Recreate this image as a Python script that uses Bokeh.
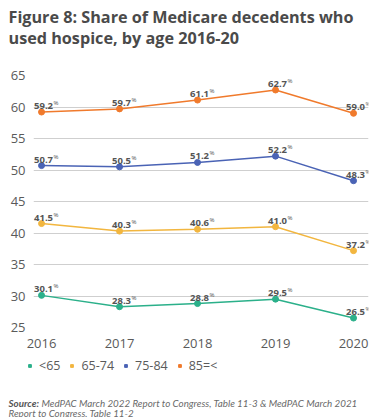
from bokeh.plotting import figure
from bokeh.layouts import column
from bokeh.models import Range1d, Legend, LegendItem, FixedTicker, ColumnDataSource
from bokeh.core.properties import value
from bokeh.embed import file_html
from bokeh.resources import INLINE

# ---- data ----
years = [2016, 2017, 2018, 2019, 2020]
under65 = [30.1, 28.3, 28.8, 29.5, 26.5]
age65_74 = [41.5, 40.3, 40.6, 41.0, 37.2]
age75_84 = [50.7, 50.5, 51.2, 52.2, 48.3]
age85plus = [59.2, 59.7, 61.1, 62.7, 59.0]
series_names = ["<65", "65-74", "75-84", "85=<"]
series_values = [under65, age65_74, age75_84, age85plus]
colors = ["#2bb08a", "#f2b63f", "#4a63b5", "#f07a2c"]
y_ticks = [25, 30, 35, 40, 45, 50, 55, 60, 65]
title_lines = ["Figure 8: Share of Medicare decedents who", "used hospice, by age 2016-20"]
source_bold = "Source:"
source_line1 = "MedPAC March 2022 Report to Congress, Table 11-3 & MedPAC March 2021"
source_line2 = "Report to Congress, Table 11-2"

FONT = "Open Sans"
W = 388
TOP_H, MAIN_H, BOT_H = 67, 290, 60


def blank_fig(h):
    f = figure(width=W, height=h, output_backend="svg", toolbar_location=None,
               x_range=Range1d(0, W), y_range=Range1d(h, 0),
               min_border=0, min_border_left=0, min_border_right=0,
               min_border_top=0, min_border_bottom=0, frame_align=False)
    f.axis.visible = False
    f.grid.visible = False
    f.outline_line_color = None
    return f


# ---- title ----
top = blank_fig(TOP_H)
top.text(x=[8, 8], y=[16, 37], text=title_lines, text_font=value(FONT), text_font_style="bold",
         text_font_size="16.2px", text_color="#4a4a4a", text_baseline="alphabetic")

# ---- main chart ----
p = figure(width=W, height=MAIN_H, output_backend="svg", toolbar_location=None,
           x_range=Range1d(2015.897, 2020.192), y_range=Range1d(25, 65),
           min_border_left=33, min_border_right=20, min_border_top=8, min_border_bottom=30,
           frame_align=False)
p.outline_line_color = None
p.xgrid.visible = False
p.ygrid.ticker = FixedTicker(ticks=y_ticks)
p.ygrid.grid_line_color = "#cfcfcf"
p.ygrid.grid_line_width = 1

for ax in (p.xaxis[0], p.yaxis[0]):
    ax.axis_line_color = None
    ax.major_tick_line_color = None
    ax.minor_tick_line_color = None
    ax.major_label_text_font = FONT
    ax.major_label_text_font_size = "13px"
    ax.major_label_text_color = "#5a5a5a"
p.xaxis.ticker = FixedTicker(ticks=years)
p.yaxis.ticker = FixedTicker(ticks=y_ticks)
p.xaxis.major_label_standoff = 5
p.yaxis.major_label_standoff = 2

for name, vals, col in zip(series_names, series_values, colors):
    src = ColumnDataSource(dict(x=years, y=vals, lab=[f"{v:.1f}" for v in vals], pct=["%"] * len(vals)))
    p.line("x", "y", source=src, line_color=col, line_width=1.5)
    p.scatter("x", "y", source=src, size=6, fill_color=col, line_color=col)
    p.text("x", "y", text="lab", source=src, text_font=value(FONT), text_font_style="bold",
           text_font_size="9.5px", text_color="#555555", text_align="center",
           text_baseline="alphabetic", x_offset=2, y_offset=-6)
    p.text("x", "y", text="pct", source=src, text_font=value(FONT),
           text_font_size="6px", text_color="#555555", text_align="left",
           text_baseline="alphabetic", x_offset=12, y_offset=-9)

# ---- legend + source ----
bot = blank_fig(BOT_H)
items = []
for name, col in zip(series_names, colors):
    r = bot.scatter(x=[-1000], y=[-1000], marker="square", size=7,
                    fill_color=col, line_color=col)
    items.append(LegendItem(label=name, renderers=[r]))
legend = Legend(items=items, orientation="horizontal", location=(26, BOT_H - 17),
                padding=0, margin=0, spacing=8, label_standoff=6,
                glyph_width=7, glyph_height=7, label_height=17,
                label_text_font=FONT, label_text_font_size="12.5px", label_text_color="#5a5a5a",
                border_line_color=None, background_fill_alpha=0)
bot.add_layout(legend, "center")
bot.text(x=[8], y=[45], text=[source_bold], text_font=value("Lato"), text_font_style="bold italic",
         text_font_size="9.8px", text_color="#555555", text_baseline="alphabetic")
bot.text(x=[41, 8], y=[45, 55], text=[source_line1, source_line2], text_font=value("Lato"),
         text_font_style="italic", text_font_size="9.8px", text_color="#6a6a6a",
         text_baseline="alphabetic")

layout = column(top, p, bot, spacing=0)
open("out.html", "w").write(file_html(layout, INLINE))
